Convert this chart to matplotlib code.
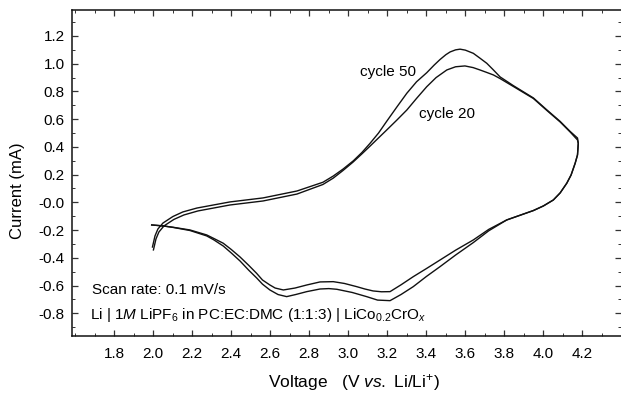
import matplotlib
matplotlib.use("Agg")
import matplotlib.pyplot as plt
from matplotlib.ticker import FixedLocator, FixedFormatter, MultipleLocator

plt.rcParams['font.family'] = ['Liberation Sans', 'DejaVu Sans']
plt.rcParams['mathtext.fontset'] = 'custom'
plt.rcParams['mathtext.rm'] = 'Liberation Sans'
plt.rcParams['mathtext.it'] = 'Liberation Sans:italic'
plt.rcParams['mathtext.bf'] = 'Liberation Sans:bold'

# ---- data (Voltage in V, Current in mA) ----
# cycle 50: anodic sweep (2.0 -> 4.18 V) then cathodic sweep (4.18 -> 2.0 V)
c50_anodic_v = [1.996, 2.009, 2.024, 2.050, 2.101, 2.152, 2.224, 2.393, 2.563, 2.737,
                2.870, 2.923, 2.973, 3.026, 3.070, 3.111, 3.155, 3.197, 3.250, 3.300,
                3.350, 3.402, 3.440, 3.470, 3.500, 3.522, 3.550, 3.573, 3.600, 3.641,
                3.675, 3.710, 3.744, 3.778, 3.846, 3.949, 4.017, 4.086, 4.137, 4.175]
c50_anodic_i = [-0.322, -0.242, -0.192, -0.149, -0.102, -0.069, -0.041, 0.003, 0.032, 0.082,
                0.145, 0.190, 0.240, 0.300, 0.360, 0.425, 0.500, 0.585, 0.690, 0.787,
                0.870, 0.935, 0.990, 1.030, 1.065, 1.085, 1.100, 1.105, 1.098, 1.075,
                1.040, 1.003, 0.955, 0.905, 0.842, 0.753, 0.668, 0.584, 0.512, 0.464]
c50_cathodic_v = [4.179, 4.175, 4.163, 4.142, 4.120, 4.086, 4.051, 4.000, 3.949, 3.812,
                  3.720, 3.641, 3.550, 3.470, 3.400, 3.333, 3.270, 3.214, 3.150, 3.094,
                  3.020, 2.941, 2.900, 2.855, 2.787, 2.730, 2.684, 2.640, 2.598, 2.560,
                  2.530, 2.490, 2.445, 2.400, 2.359, 2.310, 2.274, 2.188, 2.103, 2.051, 1.992]
c50_cathodic_i = [0.426, 0.342, 0.282, 0.197, 0.138, 0.068, 0.017, -0.026, -0.059, -0.127,
                  -0.205, -0.290, -0.380, -0.464, -0.535, -0.608, -0.665, -0.709, -0.705, -0.680,
                  -0.650, -0.627, -0.622, -0.625, -0.644, -0.665, -0.680, -0.665, -0.632, -0.590,
                  -0.545, -0.490, -0.423, -0.365, -0.315, -0.270, -0.242, -0.203, -0.181, -0.170, -0.163]

# cycle 20
c20_anodic_v = [2.001, 2.014, 2.029, 2.055, 2.106, 2.157, 2.229, 2.393, 2.563, 2.737,
                2.870, 2.923, 2.973, 3.024, 3.070, 3.111, 3.155, 3.197, 3.250, 3.300,
                3.350, 3.402, 3.450, 3.505, 3.550, 3.598, 3.640, 3.675, 3.710, 3.744,
                3.778, 3.846, 3.949, 4.017, 4.086, 4.137, 4.175]
c20_anodic_i = [-0.343, -0.264, -0.214, -0.170, -0.123, -0.091, -0.062, -0.019, 0.010, 0.060,
                0.129, 0.175, 0.230, 0.290, 0.350, 0.405, 0.465, 0.522, 0.595, 0.666,
                0.750, 0.834, 0.900, 0.955, 0.978, 0.984, 0.972, 0.955, 0.937, 0.919,
                0.893, 0.836, 0.749, 0.664, 0.580, 0.508, 0.450]
c20_cathodic_v = [4.179, 4.175, 4.163, 4.142, 4.120, 4.086, 4.051, 4.000, 3.949, 3.812,
                  3.720, 3.641, 3.550, 3.470, 3.400, 3.333, 3.270, 3.214, 3.170, 3.127,
                  3.085, 3.043, 2.980, 2.923, 2.855, 2.787, 2.727, 2.667, 2.625, 2.598,
                  2.560, 2.530, 2.490, 2.445, 2.400, 2.359, 2.310, 2.274, 2.188, 2.103, 2.051, 1.992]
c20_cathodic_i = [0.426, 0.342, 0.282, 0.197, 0.138, 0.068, 0.017, -0.026, -0.059, -0.127,
                  -0.195, -0.271, -0.345, -0.416, -0.478, -0.536, -0.595, -0.644, -0.645, -0.639,
                  -0.625, -0.608, -0.585, -0.572, -0.574, -0.596, -0.618, -0.632, -0.618, -0.596,
                  -0.560, -0.512, -0.455, -0.394, -0.340, -0.295, -0.260, -0.235, -0.199, -0.180, -0.170, -0.163]

x_ticks = [1.8, 2.0, 2.2, 2.4, 2.6, 2.8, 3.0, 3.2, 3.4, 3.6, 3.8, 4.0, 4.2]
x_tick_labels = ['1.8', '2.0', '2.2', '2.4', '2.6', '2.8', '3.0', '3.2', '3.4', '3.6', '3.8', '4.0', '4.2']
y_ticks = [1.2, 1.0, 0.8, 0.6, 0.4, 0.2, 0.0, -0.2, -0.4, -0.6, -0.8]
y_tick_labels = ['1.2', '1.0', '0.8', '0.6', '0.4', '0.2', '-0.0', '-0.2', '-0.4', '-0.6', '-0.8']

# ---- figure ----
W, H = 621, 396
fig = plt.figure(figsize=(W / 100, H / 100), dpi=100)
ax = fig.add_axes([71.7 / W, 1 - 336 / H, (621 - 71.7) / W, (336 - 10) / H])

lc = '#111111'
ax.plot(c50_anodic_v + c50_cathodic_v, c50_anodic_i + c50_cathodic_i, color=lc, lw=1.0)
ax.plot(c20_anodic_v + c20_cathodic_v, c20_anodic_i + c20_cathodic_i, color=lc, lw=1.0)

ax.set_xlim(1.582, 4.398)
ax.set_ylim(-0.964, 1.3875)

ax.xaxis.set_major_locator(FixedLocator(x_ticks))
ax.xaxis.set_major_formatter(FixedFormatter(x_tick_labels))
ax.xaxis.set_minor_locator(MultipleLocator(0.1))
ax.yaxis.set_major_locator(FixedLocator(y_ticks))
ax.yaxis.set_major_formatter(FixedFormatter(y_tick_labels))
ax.yaxis.set_minor_locator(MultipleLocator(0.1))

ax.tick_params(which='both', direction='in', top=True, right=True, color='#333333')
ax.tick_params(which='major', length=4.5, width=0.9)
ax.tick_params(which='minor', length=2.5, width=0.7)
ax.tick_params(axis='x', which='major', labelsize=11, pad=8)
ax.tick_params(axis='y', which='major', labelsize=11, pad=5)

for s in ['left', 'bottom', 'top']:
    ax.spines[s].set_linewidth(1.1)
    ax.spines[s].set_color('#111111')
ax.spines['right'].set_visible(False)

fig.text(18 / W, 1 - 191 / H, 'Current (mA)', rotation=90, ha='center', va='center', fontsize=12)
fig.text(354 / W, 1 - 383 / H, r'Voltage   (V $\it{vs.}$ Li/Li$^{+}$)', ha='center', va='center', fontsize=12.5)

ax.text(3.06, 0.94, 'cycle 50', fontsize=11, ha='left', va='center')
ax.text(3.362, 0.637, 'cycle 20', fontsize=11, ha='left', va='center')
ax.text(1.686, -0.632, 'Scan rate: 0.1 mV/s', fontsize=11, ha='left', va='center')
ax.text(1.676, -0.812, r'Li | 1$\it{M}$ LiPF$_{6}$ in PC:EC:DMC (1:1:3) | LiCo$_{0.2}$CrO$_{x}$',
        fontsize=11, ha='left', va='center')

fig.savefig('out.png', dpi=100)
